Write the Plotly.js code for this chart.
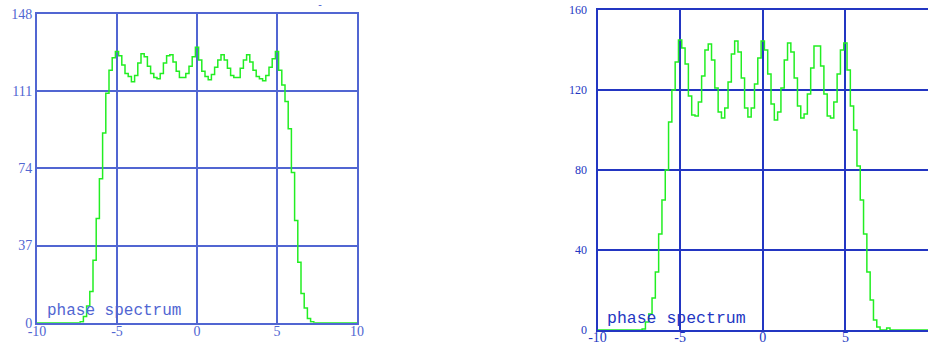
<!DOCTYPE html>
<html>
<head>
<meta charset="utf-8">
<script src="https://cdn.plot.ly/plotly-3.0.1.min.js"></script>
<style>
  html, body { margin: 0; padding: 0; background: #ffffff; }
  #chart { width: 928px; height: 344px; }
</style>
</head>
<body>
<div id="chart"></div>
<script>
// Frequency grid shared by both spectra
const freq = [
  -10, -9.8, -9.6, -9.4, -9.2, -9, -8.8, -8.6, -8.4, -8.2,
  -8, -7.8, -7.6, -7.4, -7.2, -7, -6.8, -6.6, -6.4, -6.2,
  -6, -5.8, -5.6, -5.4, -5.2, -5, -4.8, -4.6, -4.4, -4.2,
  -4, -3.8, -3.6, -3.4, -3.2, -3, -2.8, -2.6, -2.4, -2.2,
  -2, -1.8, -1.6, -1.4, -1.2, -1, -0.8, -0.6, -0.4, -0.2,
  0, 0.2, 0.4, 0.6, 0.8, 1, 1.2, 1.4, 1.6, 1.8,
  2, 2.2, 2.4, 2.6, 2.8, 3, 3.2, 3.4, 3.6, 3.8,
  4, 4.2, 4.4, 4.6, 4.8, 5, 5.2, 5.4, 5.6, 5.8,
  6, 6.2, 6.4, 6.6, 6.8, 7, 7.2, 7.4, 7.6, 7.8,
  8, 8.2, 8.4, 8.6, 8.8, 9, 9.2, 9.4, 9.6, 9.8, 10
];

// Left panel: shallow ripple on the plateau
const spectrumA = [
  0, 0, 0, 0, 0, 0, 0, 0, 0, 0,
  0, 0, 0, 0, 0.5, 3, 8, 15, 30, 50,
  69, 91, 110, 121, 127, 130, 128, 123.5, 119.5, 118,
  115.5, 118.5, 124.5, 129, 127.5, 123, 119.5, 117.5, 117, 119.5,
  124.5, 128, 128.5, 125, 120.5, 117.5, 117.5, 119.5, 123, 127.5,
  132, 126, 120.5, 118, 116.5, 119, 122.5, 126, 128.5, 126,
  122, 118.5, 117.5, 117.5, 122, 126, 128.5, 125, 121, 118,
  117, 116, 118.5, 122.5, 126.5, 130, 121, 114, 106, 93,
  72, 49, 29, 14, 7, 2, 0.5, 0, 0, 0,
  0, 0, 0, 0, 0, 0, 0, 0, 0, 0, 0
];

// Right panel: deep ripple on the plateau
const spectrumB = [
  0, 0, 0, 0, 0, 0, 0, 0, 0, 0,
  0, 0, 0, 0, 0.5, 4, 8, 16, 29, 48,
  65, 80, 104, 120, 134, 145, 141, 133, 117, 107.5,
  107, 114, 127, 140, 143, 135, 121, 109, 106, 111,
  124, 138, 144.5, 139, 126, 111, 106.5, 111, 123, 136,
  144.5, 140, 128, 113, 105, 109, 121, 135, 143.5, 139,
  126, 112, 106, 108, 118, 131, 142, 142, 132, 118,
  107, 106, 114, 128, 140, 143.5, 130, 112, 100, 82,
  65, 48, 29, 15, 5, 1.5, 0, 0, 1, 0,
  0, 0, 0, 0, 0, 0, 0, 0, 0, 0, 0
];

const xTickVals = [-10, -5, 0, 5, 10];
const xTickText = ['-10', '-5', '0', '5', '10'];
const yTickA = [0, 37, 74, 111, 148];
const yTickB = [0, 40, 80, 120, 160];
const caption = 'phase spectrum';

const green = '#22ee22';

function xAxis(domain, grid, width, anchor, standoff) {
  return {
    domain: domain, range: [-10, 10], anchor: anchor,
    tickmode: 'array', tickvals: xTickVals, ticktext: xTickText,
    showgrid: true, gridcolor: grid, gridwidth: width,
    zeroline: false, showline: true, linecolor: grid, linewidth: width, mirror: true,
    ticks: '', layer: 'below traces', ticklabelstandoff: standoff,
    tickfont: {family: 'Liberation Serif', size: 14, color: grid}
  };
}
function yAxis(domain, ticks, grid, width, anchor, size, standoff) {
  return {
    domain: domain, range: [ticks[0], ticks[ticks.length - 1]], anchor: anchor,
    tickmode: 'array', tickvals: ticks,
    showgrid: true, gridcolor: grid, gridwidth: width,
    zeroline: false, showline: true, linecolor: grid, linewidth: width, mirror: true,
    ticks: '', layer: 'below traces', ticklabelstandoff: standoff,
    tickfont: {family: 'Liberation Serif', size: size, color: grid}
  };
}

const gridA = '#5166d2';
const gridB = '#2336c2';

const data = [
  {x: freq, y: spectrumA, xaxis: 'x', yaxis: 'y', type: 'scatter', mode: 'lines',
   line: {color: green, width: 1.5, shape: 'hvh'}, cliponaxis: false, hoverinfo: 'skip'},
  {x: freq, y: spectrumB, xaxis: 'x2', yaxis: 'y2', type: 'scatter', mode: 'lines',
   line: {color: green, width: 1.5, shape: 'hvh'}, cliponaxis: false, hoverinfo: 'skip'}
];

const layout = {
  width: 928, height: 344,
  margin: {l: 0, r: 0, t: 0, b: 0},
  paper_bgcolor: '#ffffff', plot_bgcolor: '#ffffff',
  showlegend: false,
  xaxis: xAxis([37 / 928, 357 / 928], gridA, 2, 'y', -6),
  yaxis: yAxis([21.3 / 344, 330 / 344], yTickA, gridA, 2, 'x', 14, 0),
  xaxis2: xAxis([597.5 / 928, 1], gridB, 2, 'y2', -7),
  yaxis2: yAxis([14 / 344, 334 / 344], yTickB, gridB, 2, 'x2', 12, 6),
  annotations: [
    {xref: 'x', yref: 'y', x: -9.5, y: 5.8, xanchor: 'left', yanchor: 'middle', showarrow: false,
     text: caption, font: {family: 'Liberation Mono', size: 16, color: gridA}},
    {xref: 'x2', yref: 'y2', x: -9.54, y: 5.75, xanchor: 'left', yanchor: 'middle', showarrow: false,
     text: caption, font: {family: 'Liberation Mono', size: 16.5, color: gridB}},
    {xref: 'paper', yref: 'paper', x: 320 / 928, y: 339 / 344, xanchor: 'center', yanchor: 'middle',
     showarrow: false, text: '-', font: {family: 'Liberation Mono', size: 10, color: gridA}}
  ]
};

Plotly.newPlot('chart', data, layout, {staticPlot: true, displayModeBar: false});
</script>
</body>
</html>
